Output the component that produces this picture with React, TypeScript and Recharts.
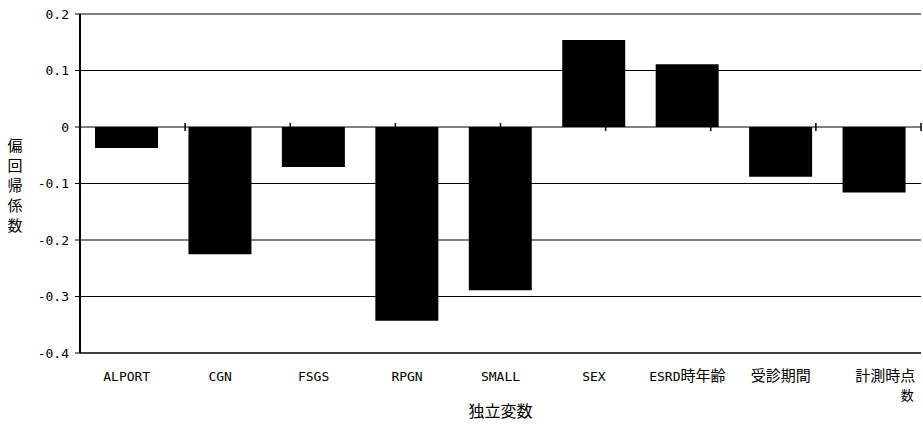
import React from "react";
import { BarChart, Bar, XAxis, YAxis, CartesianGrid, ReferenceLine, Label } from "recharts";

const CATEGORIES = ["ALPORT", "CGN", "FSGS", "RPGN", "SMALL", "SEX", "ESRD時年齢", "受診期間", "計測時点数"];
const COEFFICIENTS = [-0.037, -0.225, -0.071, -0.343, -0.289, 0.154, 0.111, -0.088, -0.116];
const Y_TICKS = [0.2, 0.1, 0, -0.1, -0.2, -0.3, -0.4];
const BOUNDARIES = [1, 2, 3, 4, 5, 6, 7, 8, 9];

const MONO = "'DejaVu Sans Mono', monospace";
const CJK = "'Noto Sans CJK JP', sans-serif";

const data = CATEGORIES.map((name, i) => ({ name, value: COEFFICIENTS[i] }));

// ASCII in a mono font, kanji slightly larger
function runs(s: string, cjkSize = 15) {
  return (s.match(/[\x00-\x7f]+|[^\x00-\x7f]+/g) || []).map((r, i) => {
    const ascii = /^[\x00-\x7f]+$/.test(r);
    return (
      <tspan key={i} fontFamily={ascii ? MONO : CJK} fontSize={ascii ? 13 : cjkSize}>
        {r}
      </tspan>
    );
  });
}

function XTick(props: any) {
  const { x, y, payload } = props;
  const v: string = payload.value;
  if (v === "計測時点数") {
    // wrapped like the original: last char drops to a second line
    return (
      <g>
        <text x={x + 11} y={y + 20} textAnchor="middle" fill="#000">
          {runs("計測時点")}
        </text>
        <text x={x + 33} y={y + 39} textAnchor="middle" fill="#000">
          {runs("数", 13)}
        </text>
      </g>
    );
  }
  return (
    <text x={x} y={y + 20} textAnchor="middle" fill="#000">
      {runs(v)}
    </text>
  );
}

function YTitle() {
  const chars = "偏回帰係数".split("");
  return (
    <g>
      {chars.map((c, i) => (
        <text key={i} x={15} y={151 + i * 20} textAnchor="middle" fill="#000" fontFamily={CJK} fontSize={15}>
          {c}
        </text>
      ))}
    </g>
  );
}

function XTitle(props: any) {
  const vb = props.viewBox || { x: 80, y: 353, width: 841, height: 78 };
  return (
    <text x={vb.x + vb.width / 2} y={vb.y + 64} textAnchor="middle" fill="#000" fontFamily={CJK} fontSize={16}>
      独立変数
    </text>
  );
}

export default function App() {
  return (
    <div style={{ position: "absolute", left: 0, top: 0, width: 923, height: 431, background: "#fff" }}>
      <BarChart width={923} height={431} data={data} margin={{ top: 14, right: 2, left: 0, bottom: 0 }}>
        <CartesianGrid vertical={false} stroke="#000" strokeWidth={1} />
        <XAxis
          dataKey="name"
          height={78}
          interval={0}
          tickLine={false}
          axisLine={{ stroke: "#000" }}
          tick={<XTick />}
        >
          <Label content={<XTitle />} />
        </XAxis>
        <XAxis xAxisId="grid" type="number" domain={[0, 9]} hide />
        <YAxis
          domain={[-0.4, 0.2]}
          ticks={Y_TICKS}
          width={80}
          tickSize={5}
          tickMargin={6}
          interval={0}
          axisLine={{ stroke: "#000", strokeWidth: 2 }}
          tickLine={{ stroke: "#000" }}
          tick={{ fill: "#000", fontFamily: MONO, fontSize: 13 }}
          tickFormatter={(v: number) => (v === 0 ? "0" : v.toFixed(1))}
        >
          <Label content={<YTitle />} />
        </YAxis>
        {BOUNDARIES.map((b) => (
          <ReferenceLine
            key={b}
            xAxisId="grid"
            segment={[
              { x: b, y: -0.007 },
              { x: b, y: 0.007 },
            ]}
            stroke="#000"
            strokeWidth={1.5}
            ifOverflow="visible"
          />
        ))}
        <Bar dataKey="value" fill="#000" barSize={63} isAnimationActive={false} />
      </BarChart>
    </div>
  );
}
